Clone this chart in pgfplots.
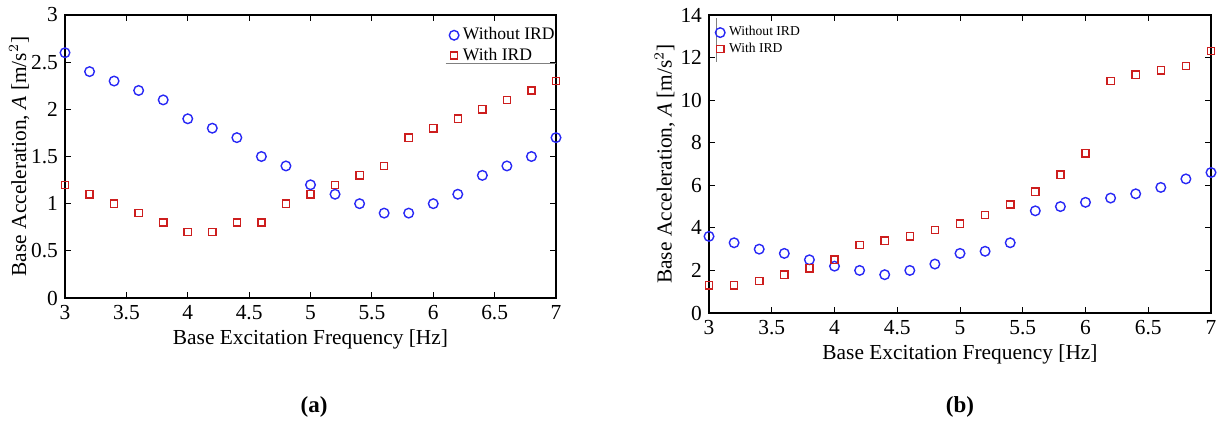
\documentclass[border=0pt]{standalone}
\usepackage{pgfplots}
\pgfplotsset{compat=1.18}
\usepackage{fontspec}
\setmainfont{Liberation Serif}
\definecolor{mblue}{RGB}{40,40,245}
\definecolor{mred}{RGB}{205,30,30}
\begin{document}
\begin{tikzpicture}
\useasboundingbox (0pt,0pt) rectangle (612pt,212.5pt);
\pgfplotsset{
  myax/.style={
    scale only axis,
    xmin=3, xmax=7,
    xtick={3,3.5,...,7},
    tick align=inside,
    major tick length=3pt,
    axis line style={line width=0.9pt},
    every tick/.style={black, line width=0.5pt},
    tick label style={font=\fontsize{10.7}{11}\selectfont},
    label style={font=\fontsize{10.7}{11}\selectfont},
    /pgf/number format/assume math mode=true,
    xlabel={Base Excitation Frequency [Hz]},
    ylabel={Base Acceleration, \textit{A} [m/s$^2$]},
    legend cell align=left,
    clip=false,
  },
  blueser/.style={only marks, mark=o, mark size=2.4pt, color=mblue, line width=0.7pt},
  redser/.style={only marks, mark=square, mark size=1.8pt, color=mred, line width=0.7pt},
}
\begin{axis}[myax,
  at={(32.5pt,63.5pt)}, anchor=south west,
  width=245.5pt, height=141.5pt,
  ymin=0, ymax=3, ytick={0,0.5,...,3},
  ylabel style={yshift=-6pt},
  xlabel style={yshift=2pt},
  legend style={draw=none, fill=none, at={(1.0,0.985)}, anchor=north east, xshift=4.5pt, font=\fontsize{8.8}{9.5}\selectfont, row sep=-1.5pt},
]
\addplot[blueser] coordinates {(3,2.6)(3.2,2.4)(3.4,2.3)(3.6,2.2)(3.8,2.1)(4,1.9)(4.2,1.8)(4.4,1.7)(4.6,1.5)(4.8,1.4)(5,1.2)(5.2,1.1)(5.4,1.0)(5.6,0.9)(5.8,0.9)(6,1.0)(6.2,1.1)(6.4,1.3)(6.6,1.4)(6.8,1.5)(7,1.7)};
\addlegendentry{Without IRD}
\addplot[redser] coordinates {(3,1.2)(3.2,1.1)(3.4,1.0)(3.6,0.9)(3.8,0.8)(4,0.7)(4.2,0.7)(4.4,0.8)(4.6,0.8)(4.8,1.0)(5,1.1)(5.2,1.2)(5.4,1.3)(5.6,1.4)(5.8,1.7)(6,1.8)(6.2,1.9)(6.4,2.0)(6.6,2.1)(6.8,2.2)(7,2.3)};
\addlegendentry{With IRD}
\draw[gray, line width=0.6pt] (axis cs:6.1,2.49) -- (axis cs:7,2.49);
\end{axis}
\begin{axis}[myax,
  at={(354.5pt,56pt)}, anchor=south west,
  width=251pt, height=149pt,
  ymin=0, ymax=14, ytick={0,2,...,14},
  ylabel style={yshift=-4pt},
  xlabel style={yshift=2pt},
  legend style={draw=none, fill=none, at={(0.0,0.99)}, anchor=north west, font=\fontsize{6.8}{7}\selectfont, row sep=-2pt},
]
\addplot[blueser] coordinates {(3,3.6)(3.2,3.3)(3.4,3.0)(3.6,2.8)(3.8,2.5)(4,2.2)(4.2,2.0)(4.4,1.8)(4.6,2.0)(4.8,2.3)(5,2.8)(5.2,2.9)(5.4,3.3)(5.6,4.8)(5.8,5.0)(6,5.2)(6.2,5.4)(6.4,5.6)(6.6,5.9)(6.8,6.3)(7,6.6)};
\addlegendentry{Without IRD}
\addplot[redser] coordinates {(3,1.3)(3.2,1.3)(3.4,1.5)(3.6,1.8)(3.8,2.1)(4,2.5)(4.2,3.2)(4.4,3.4)(4.6,3.6)(4.8,3.9)(5,4.2)(5.2,4.6)(5.4,5.1)(5.6,5.7)(5.8,6.5)(6,7.5)(6.2,10.9)(6.4,11.2)(6.6,11.4)(6.8,11.6)(7,12.3)};
\addlegendentry{With IRD}
\draw[gray, line width=0.4pt] (axis cs:3.055,13.85) -- (axis cs:3.055,11.8);
\end{axis}
\node[font=\bfseries\fontsize{11.5}{12}\selectfont] at (157pt,9pt) {(a)};
\node[font=\bfseries\fontsize{11.5}{12}\selectfont] at (480pt,9pt) {(b)};
\end{tikzpicture}
\end{document}
